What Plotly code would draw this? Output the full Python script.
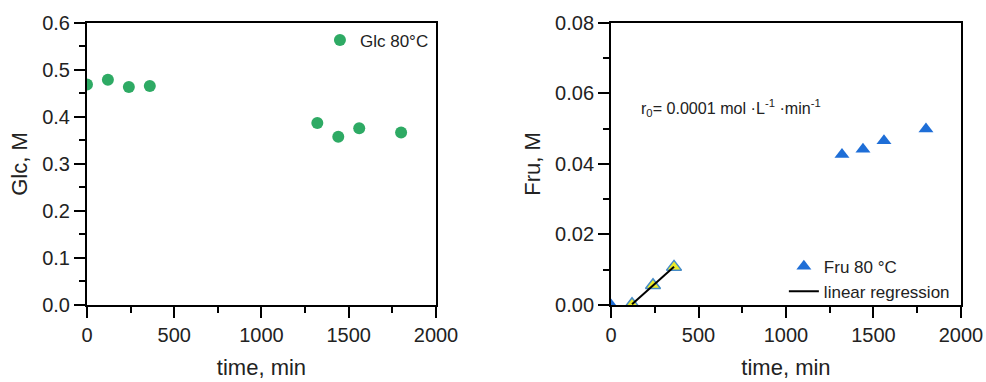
import numpy as np
import plotly.graph_objects as go

# Glucose at 80 °C
glc_time = [0, 120, 240, 360, 1320, 1440, 1560, 1800]
glc_conc = [0.469, 0.479, 0.464, 0.466, 0.387, 0.358, 0.376, 0.367]

# Fructose at 80 °C
fru_time = [0, 120, 240, 360, 1320, 1440, 1560, 1800]
fru_conc = [0.0, 0.0002, 0.0056, 0.0108, 0.0427, 0.0442, 0.0466, 0.0499]

# initial-rate points used for the regression
reg_time = [120, 240, 360]
reg_conc = [0.0002, 0.0056, 0.0108]

slope, intercept = np.polyfit(reg_time, reg_conc, 1)
fit_x = np.array([reg_time[0], reg_time[-1]])
fit_y = slope * fit_x + intercept

FONT = "Liberation Sans, Arial, sans-serif"
GREEN = "rgb(46,170,100)"
BLUE = "rgb(30,110,215)"
YELLOW = "rgb(235,235,40)"

fig = go.Figure()

fig.add_trace(go.Scatter(
    x=glc_time, y=glc_conc, mode="markers", name="Glc 80°C",
    marker=dict(symbol="circle", size=12, color=GREEN),
    xaxis="x", yaxis="y", legend="legend",
))

fig.add_trace(go.Scatter(
    x=fru_time, y=fru_conc, mode="markers", name="Fru 80 °C",
    marker=dict(symbol="triangle-up", size=13, color=BLUE),
    xaxis="x2", yaxis="y2", legend="legend2",
))
fig.add_trace(go.Scatter(
    x=reg_time, y=reg_conc, mode="markers", showlegend=False,
    marker=dict(symbol="triangle-up", size=13, color=YELLOW,
                line=dict(color="rgb(70,140,200)", width=1.5)),
    xaxis="x2", yaxis="y2",
))
fig.add_trace(go.Scatter(
    x=fit_x, y=fit_y, mode="lines", name="linear regression",
    line=dict(color="black", width=2),
    xaxis="x2", yaxis="y2", legend="legend2",
))

axis_common = dict(
    showline=True, linecolor="black", linewidth=2, mirror=True,
    ticks="outside", ticklen=11, tickwidth=1.5, tickcolor="black",
    showgrid=False, zeroline=False, automargin=False,
    tickfont=dict(family=FONT, size=20, color="#222"),
    title_font=dict(family=FONT, size=22, color="#222"),
)

fig.update_layout(
    width=986, height=382,
    margin=dict(l=0, r=0, t=0, b=0),
    paper_bgcolor="white", plot_bgcolor="white",
    font=dict(family=FONT, color="#222"),
    xaxis=dict(domain=[0.0882, 0.4422], range=[0, 2000], dtick=500,
               title=dict(text="time, min", standoff=15), anchor="y",
               minor=dict(dtick=250, ticks="outside", ticklen=6, tickcolor="black"),
               **axis_common),
    yaxis=dict(domain=[0.2016, 0.9398], range=[0, 0.6], dtick=0.1, tickformat=".1f",
               title=dict(text="Glc, M", standoff=8), anchor="x",
               minor=dict(dtick=0.05, ticks="outside", ticklen=6, tickcolor="black"),
               **axis_common),
    xaxis2=dict(domain=[0.6197, 0.9746], range=[0, 2000], dtick=500,
                title=dict(text="time, min", standoff=15), anchor="y2",
                minor=dict(dtick=250, ticks="outside", ticklen=6, tickcolor="black"),
                **axis_common),
    yaxis2=dict(domain=[0.2016, 0.9398], range=[0, 0.08], dtick=0.02, tickformat=".2f",
                title=dict(text="Fru, M", standoff=8), anchor="x2",
                minor=dict(dtick=0.01, ticks="outside", ticklen=6, tickcolor="black"),
                **axis_common),
    legend=dict(x=0.3245, y=0.941, xanchor="left", yanchor="top",
                bgcolor="rgba(0,0,0,0)", font=dict(family=FONT, size=17, color="#222")),
    legend2=dict(x=0.795, y=0.349, xanchor="left", yanchor="top", tracegroupgap=0,
                 bgcolor="rgba(0,0,0,0)", font=dict(family=FONT, size=17, color="#222")),
    annotations=[dict(
        x=160, y=0.0559, xref="x2", yref="y2", xanchor="left", yanchor="middle",
        text="r<sub>0</sub>= 0.0001 mol ·L<sup>-1</sup> ·min<sup>-1</sup>",
        showarrow=False, font=dict(family=FONT, size=16.1, color="#222"),
    )],
)

fig.write_html("out.html")
